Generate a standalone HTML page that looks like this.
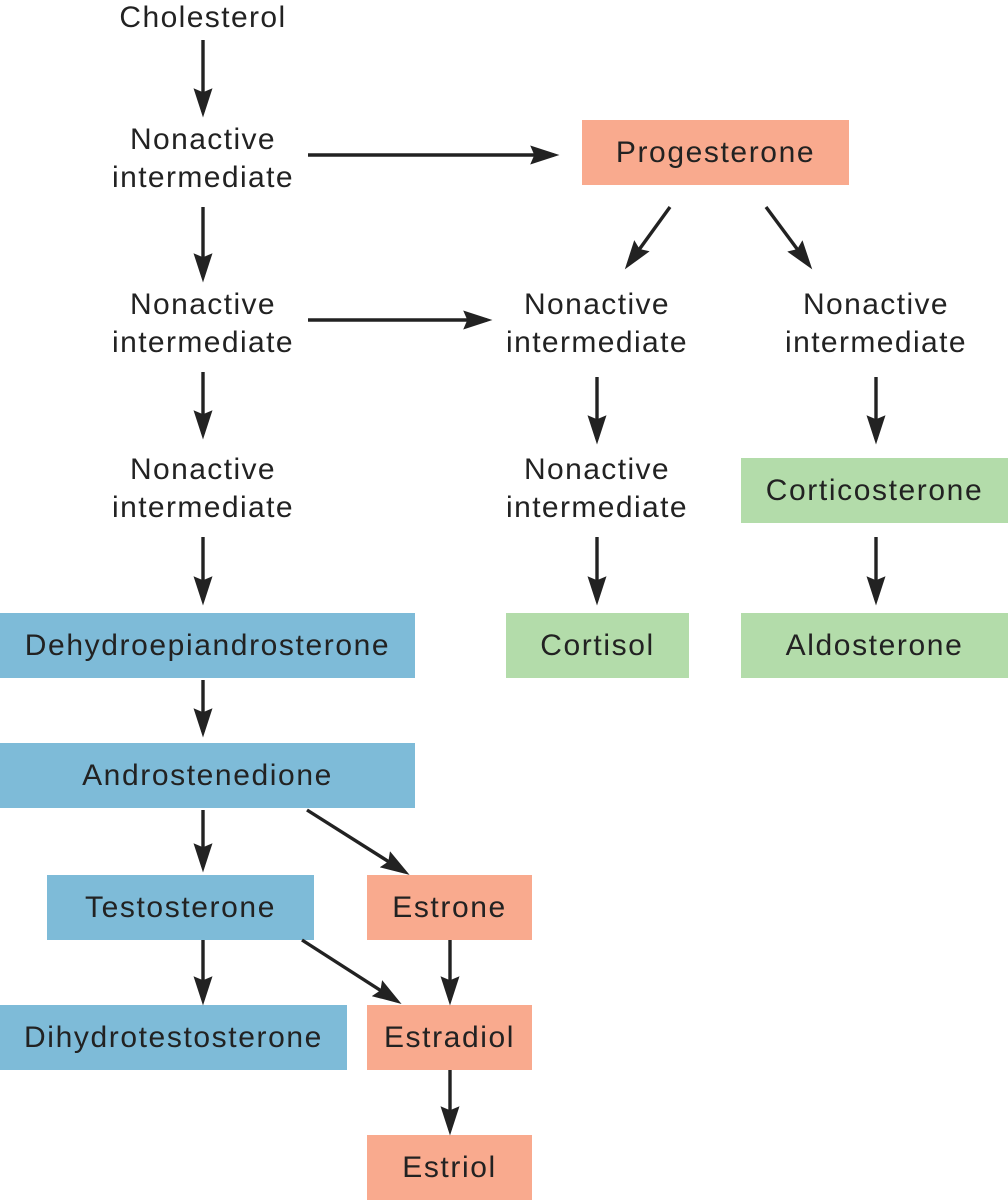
<!DOCTYPE html>
<html><head><style>
body{margin:0;width:1008px;height:1200px;background:#fff;position:relative;overflow:hidden;font-family:"Liberation Sans",sans-serif;color:#222}
.b{position:absolute;display:flex;align-items:center;justify-content:center;font-size:30px;letter-spacing:1.6px;height:65px}
.bl{background:#7ebbd8}.s{background:#f9aa8e}.g{background:#b3dcaa}
.t{position:absolute;font-size:30px;letter-spacing:1.4px;text-align:center;line-height:38px;width:340px}
svg{position:absolute;left:0;top:0}
</style></head><body>
<div class="t" style="left:33px;top:-1px">Cholesterol</div>
<div class="t" style="left:33px;top:121px">Nonactive<br>intermediate</div>
<div class="t" style="left:33px;top:286px">Nonactive<br>intermediate</div>
<div class="t" style="left:33px;top:451px">Nonactive<br>intermediate</div>
<div class="t" style="left:427px;top:286px">Nonactive<br>intermediate</div>
<div class="t" style="left:427px;top:451px">Nonactive<br>intermediate</div>
<div class="t" style="left:706px;top:286px">Nonactive<br>intermediate</div>
<div class="b s" style="left:582px;top:120px;width:267px">Progesterone</div>
<div class="b bl" style="left:0;top:613px;width:415px">Dehydroepiandrosterone</div>
<div class="b bl" style="left:0;top:743px;width:415px">Androstenedione</div>
<div class="b bl" style="left:47px;top:875px;width:267px">Testosterone</div>
<div class="b s" style="left:367px;top:875px;width:165px">Estrone</div>
<div class="b bl" style="left:0;top:1005px;width:347px">Dihydrotestosterone</div>
<div class="b s" style="left:367px;top:1005px;width:165px">Estradiol</div>
<div class="b s" style="left:367px;top:1135px;width:165px">Estriol</div>
<div class="b g" style="left:506px;top:613px;width:183px">Cortisol</div>
<div class="b g" style="left:741px;top:458px;width:267px">Corticosterone</div>
<div class="b g" style="left:741px;top:613px;width:267px">Aldosterone</div>
<svg width="1008" height="1200">
<defs><marker id="a" markerWidth="9" markerHeight="5.6" refX="7" refY="2.8" orient="auto" markerUnits="strokeWidth"><path d="M0,0 L8.6,2.8 L0,5.6 L1.2,2.8 Z" fill="#222"/></marker></defs>
<g stroke="#222" stroke-width="3.4" marker-end="url(#a)">
<line x1="203" y1="40" x2="203" y2="112"/>
<line x1="203" y1="207" x2="203" y2="277"/>
<line x1="203" y1="372" x2="203" y2="434"/>
<line x1="203" y1="537" x2="203" y2="600"/>
<line x1="203" y1="680" x2="203" y2="732"/>
<line x1="203" y1="810" x2="203" y2="867"/>
<line x1="203" y1="940" x2="203" y2="1000"/>
<line x1="597" y1="377" x2="597" y2="439"/>
<line x1="597" y1="537" x2="597" y2="600"/>
<line x1="876" y1="377" x2="876" y2="439"/>
<line x1="876" y1="537" x2="876" y2="600"/>
<line x1="450" y1="940" x2="450" y2="1000"/>
<line x1="450" y1="1070" x2="450" y2="1130"/>
<line x1="308" y1="155" x2="554" y2="155"/>
<line x1="308" y1="320" x2="487" y2="320"/>
<line x1="670" y1="207" x2="628" y2="265"/>
<line x1="766" y1="207" x2="809" y2="265"/>
<line x1="307" y1="810" x2="405" y2="872"/>
<line x1="302" y1="940" x2="397" y2="1001"/>
</g></svg>
</body></html>
